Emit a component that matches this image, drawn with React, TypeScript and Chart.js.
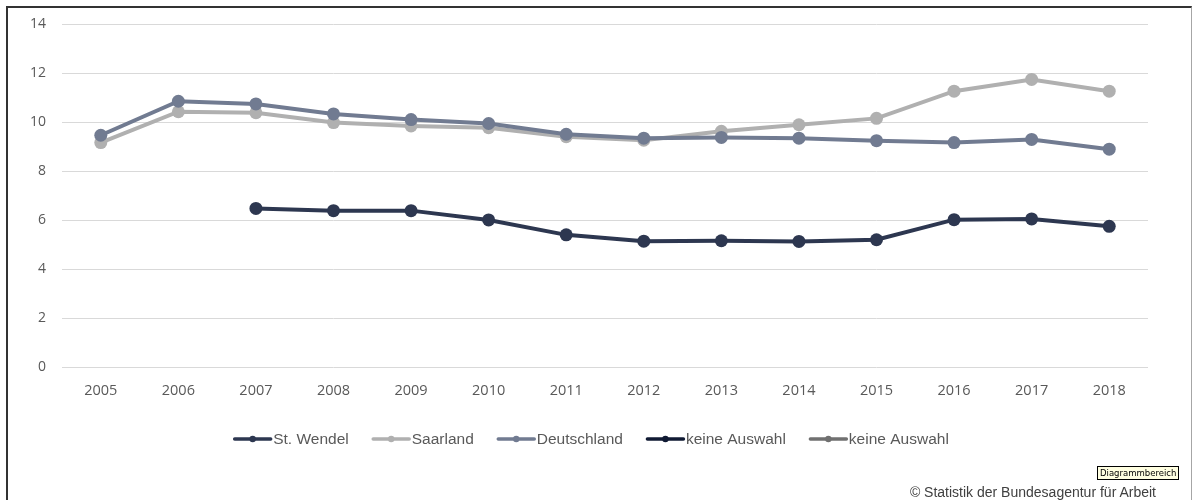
import React, { useEffect, useRef } from "react";
import { Chart, registerables } from "chart.js";

Chart.register(...registerables);

const years = ["2005", "2006", "2007", "2008", "2009", "2010", "2011", "2012", "2013", "2014", "2015", "2016", "2017", "2018"];
const stWendel = [null, null, 6.48, 6.39, 6.39, 6.01, 5.4, 5.14, 5.16, 5.13, 5.2, 6.02, 6.05, 5.75];
const saarland = [9.17, 10.43, 10.39, 9.99, 9.85, 9.78, 9.41, 9.27, 9.63, 9.9, 10.16, 11.27, 11.75, 11.27];
const deutschland = [9.47, 10.86, 10.75, 10.34, 10.11, 9.95, 9.51, 9.35, 9.38, 9.35, 9.25, 9.17, 9.3, 8.9];
const keineAuswahl1: (number | null)[] = [];
const keineAuswahl2: (number | null)[] = [];

const seriesLabels = ["St. Wendel", "Saarland", "Deutschland", "keine Auswahl", "keine Auswahl"];
const seriesColors = ["#2d3750", "#b0b0b0", "#717b91", "#101a33", "#707070"];
const yTicks = [0, 2, 4, 6, 8, 10, 12, 14];

const legendPlugin = {
  id: "lineLegend",
  afterDraw(chart: any) {
    const ctx = chart.ctx as CanvasRenderingContext2D;
    ctx.save();
    ctx.font = "15.5px 'Liberation Sans', Arial, sans-serif";
    const lineLen = 39;
    const gap = 23;
    const textGap = 1;
    const widths = seriesLabels.map((l) => lineLen + textGap + ctx.measureText(l).width);
    const total = widths.reduce((a, b) => a + b, 0) + gap * (widths.length - 1);
    let x = 591 - total / 2;
    const y = 439;
    seriesLabels.forEach((label, i) => {
      const c = seriesColors[i];
      ctx.strokeStyle = c;
      ctx.lineWidth = 3.5;
      ctx.lineCap = "round";
      ctx.beginPath();
      ctx.moveTo(x + 1.5, y);
      ctx.lineTo(x + lineLen - 1.5, y);
      ctx.stroke();
      ctx.fillStyle = c;
      ctx.beginPath();
      ctx.arc(x + lineLen / 2, y, 3.2, 0, Math.PI * 2);
      ctx.fill();
      ctx.fillStyle = "#595959";
      ctx.textBaseline = "middle";
      ctx.textAlign = "left";
      ctx.fillText(label, x + lineLen + textGap, y + 0.5);
      x += widths[i] + gap;
    });
    ctx.restore();
  },
};

export default function App() {
  const ref = useRef<HTMLCanvasElement>(null);
  useEffect(() => {
    if (!ref.current) return;
    const mk = (label: string, data: (number | null)[], color: string, order: number) => ({
      label,
      data,
      borderColor: color,
      backgroundColor: color,
      pointBackgroundColor: color,
      pointBorderColor: color,
      borderWidth: 4,
      pointRadius: 6.5,
      pointBorderWidth: 0,
      spanGaps: false,
      tension: 0,
      order,
    });
    const chart = new Chart(ref.current, {
      type: "line",
      data: {
        labels: years,
        datasets: [
          mk(seriesLabels[0], stWendel, seriesColors[0], 0),
          mk(seriesLabels[1], saarland, seriesColors[1], 2),
          mk(seriesLabels[2], deutschland, seriesColors[2], 1),
          mk(seriesLabels[3], keineAuswahl1, seriesColors[3], 3),
          mk(seriesLabels[4], keineAuswahl2, seriesColors[4], 4),
        ],
      },
      options: {
        responsive: false,
        animation: false,
        devicePixelRatio: 1,
        layout: { padding: { top: 23, right: 44, bottom: 93, left: 0 } },
        plugins: { legend: { display: false }, tooltip: { enabled: false } },
        scales: {
          y: {
            min: 0,
            max: 14,
            afterBuildTicks: (s: any) => {
              s.ticks = yTicks.map((v) => ({ value: v }));
            },
            ticks: {
              color: "#595959",
              font: { family: "'Open Sans', sans-serif", size: 14 },
              padding: 16,
            },
            grid: { color: "#d9d9d9", lineWidth: 1, drawTicks: false },
            border: { display: false },
            afterFit: (s: any) => {
              s.width = 62;
            },
          },
          x: {
            offset: true,
            ticks: {
              color: "#595959",
              font: { family: "'Open Sans', sans-serif", size: 14.5 },
              padding: 15,
              maxRotation: 0,
            },
            grid: { display: false, drawTicks: false },
            border: { display: false },
            afterFit: (s: any) => {
              s.height = 40;
            },
          },
        },
      },
      plugins: [legendPlugin],
    });
    return () => chart.destroy();
  }, []);

  return (
    <div style={{ position: "absolute", left: 0, top: 0, width: 1192, height: 500, background: "#fff", overflow: "hidden" }}>
      <canvas ref={ref} width={1192} height={500} style={{ position: "absolute", left: 0, top: 0, width: 1192, height: 500 }} />
      <div
        style={{
          position: "absolute",
          left: 6,
          top: 6,
          width: 1183,
          height: 520,
          borderLeft: "2px solid #333",
          borderTop: "2px solid #333",
          borderRight: "1px solid #a6a6a6",
          pointerEvents: "none",
        }}
      />
      <div
        style={{
          position: "absolute",
          left: 1097,
          top: 466,
          height: 12,
          padding: "0 2px",
          background: "#ffffe1",
          border: "1px solid #000",
          font: "8.5px 'DejaVu Sans', sans-serif",
          lineHeight: "12px",
          color: "#000",
          whiteSpace: "nowrap",
        }}
      >
        Diagrammbereich
      </div>
      <div
        style={{
          position: "absolute",
          right: 36,
          top: 484,
          font: "14px 'Liberation Sans', Arial, sans-serif",
          lineHeight: "16px",
          color: "#404040",
          whiteSpace: "nowrap",
        }}
      >
        © Statistik der Bundesagentur für Arbeit
      </div>
    </div>
  );
}
